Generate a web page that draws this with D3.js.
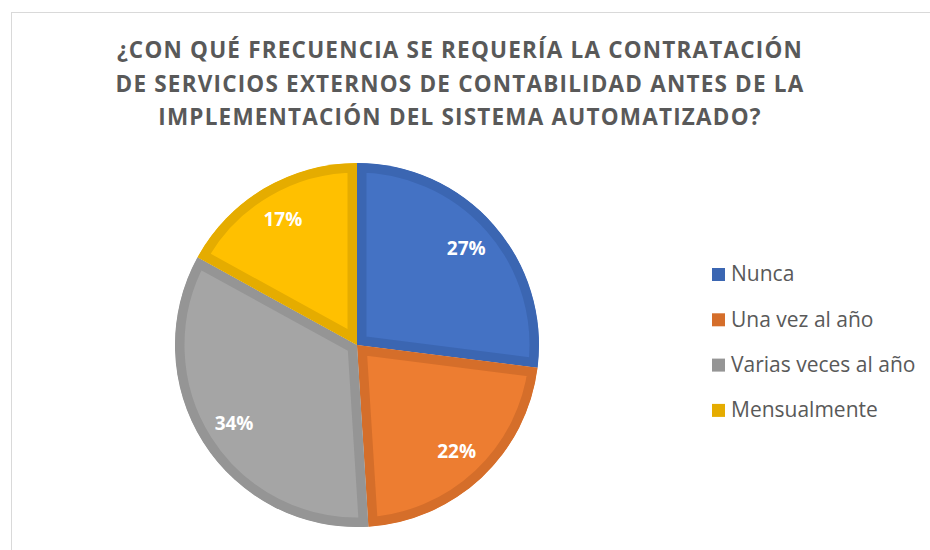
<!DOCTYPE html>
<html><head><meta charset="utf-8">
<script src="https://cdn.jsdelivr.net/npm/d3@7"></script>
<style>body{margin:0;background:#fff}svg{display:block}</style>
</head><body>
<script>
const categories = ["Nunca", "Una vez al año", "Varias veces al año", "Mensualmente"];
const values = [27, 22, 34, 17];
const labels = ["27%", "22%", "34%", "17%"];
const fills = ["#4472C4", "#ED7D31", "#A5A5A5", "#FFC000"];
const borders = ["#3B66B2", "#D56E2A", "#959595", "#E5AC00"];
const titleLines = ["¿CON QUÉ FRECUENCIA SE REQUERÍA LA CONTRATACIÓN", "DE SERVICIOS EXTERNOS DE CONTABILIDAD ANTES DE LA", "IMPLEMENTACIÓN DEL SISTEMA AUTOMATIZADO?"];

const W = 930, H = 550;
const svg = d3.select("body").append("svg").attr("width", W).attr("height", H);
svg.append("rect").attr("x", 11.5).attr("y", 12.5).attr("width", 940).attr("height", 560)
  .attr("fill", "#fff").attr("stroke", "#d9d9d9").attr("stroke-width", 1);

svg.append("g").selectAll("text").data(titleLines).join("text")
  .attr("x", 460).attr("y", (d, i) => 58 + i * 33.5)
  .attr("text-anchor", "middle")
  .attr("font-family", "'Open Sans', sans-serif").attr("font-weight", "bold")
  .attr("font-size", 22.5).attr("fill", "#595959").attr("letter-spacing", 1.2)
  .text(d => d);

const cx = 357, cy = 345, R = 182;
const pie = d3.pie().sort(null).value(d => d)(values);
const arc = d3.arc().innerRadius(0).outerRadius(R);
const defs = svg.append("defs");
defs.selectAll("clipPath").data(pie).join("clipPath")
  .attr("id", (d, i) => "clip" + i)
  .append("path").attr("d", arc);
const g = svg.append("g").attr("transform", `translate(${cx},${cy})`);
g.selectAll("path").data(pie).join("path")
  .attr("d", arc).attr("fill", (d, i) => fills[i])
  .attr("clip-path", (d, i) => `url(#clip${i})`)
  .attr("stroke", (d, i) => borders[i]).attr("stroke-width", 19).attr("stroke-linejoin", "miter");

const labelArc = d3.arc().innerRadius(R * 0.8).outerRadius(R * 0.8);
g.selectAll("text").data(pie).join("text")
  .attr("transform", d => `translate(${labelArc.centroid(d)})`)
  .attr("text-anchor", "middle").attr("dy", "0.35em")
  .attr("font-family", "'Open Sans', sans-serif").attr("font-weight", "bold")
  .attr("font-size", 19).attr("fill", "#fff")
  .text((d, i) => labels[i]);

const leg = svg.append("g").attr("transform", "translate(712,274)");
const items = leg.selectAll("g").data(categories).join("g")
  .attr("transform", (d, i) => `translate(0,${i * 45.3})`);
items.append("rect").attr("x", 0).attr("y", -6).attr("width", 13).attr("height", 13)
  .attr("fill", (d, i) => borders[i]);
items.append("text").attr("x", 19).attr("y", 0).attr("dy", "0.35em")
  .attr("font-family", "'Open Sans', sans-serif").attr("font-size", 21).attr("fill", "#595959")
  .text(d => d);
</script>
</body></html>
